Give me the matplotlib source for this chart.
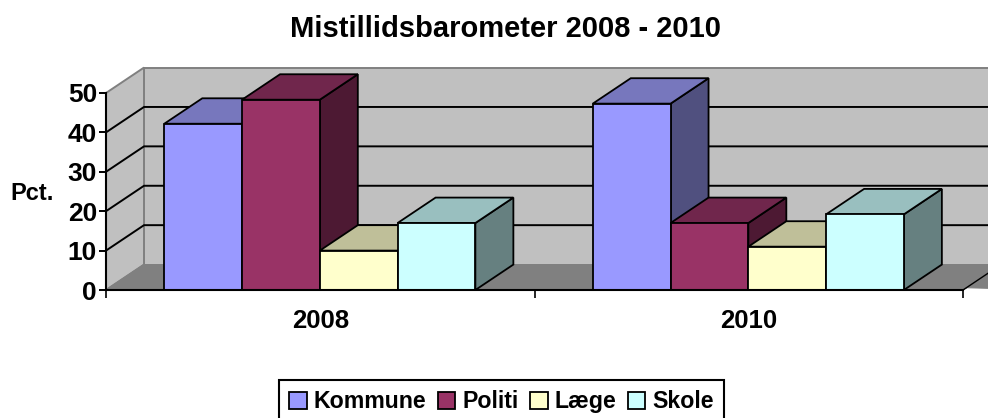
import matplotlib
matplotlib.use('Agg')
import matplotlib.pyplot as plt
from matplotlib.patches import Polygon, Patch

plt.rcParams['font.family'] = ['Liberation Sans', 'DejaVu Sans']
plt.rcParams['font.weight'] = 'bold'

years = ['2008', '2010']
series_names = ['Kommune', 'Politi', 'Læge', 'Skole']
kommune = [42.2, 47.3]
politi = [48.3, 17.0]
laege = [10.0, 11.0]
skole = [17.0, 19.2]
yticks = [0, 10, 20, 30, 40, 50]

front_colors = ['#9999ff', '#993366', '#ffffcc', '#ccffff']
top_colors = ['#7777bd', '#70264c', '#bfbf99', '#99bfbf']
side_colors = ['#50507f', '#4d1933', '#7f7f66', '#668080']

W, H = 988, 418
fig = plt.figure(figsize=(W / 100, H / 100), dpi=100)
ax = fig.add_axes([106 / W, (H - 290) / H, (963 - 106) / W, (290 - 93) / H])
ax.set_xlim(0, 2)
ax.set_ylim(0, 50)
ax.patch.set_visible(False)

# depth of the fake 3d box, in data units
dx = 38 / 428.5
dy = 25.5 / 3.95
bar_w = 0.1815
group_gap = 0.136


def poly(pts, color, edge='black', lw=1.3, z=2):
    ax.add_patch(Polygon(pts, closed=True, facecolor=color, edgecolor=edge,
                         linewidth=lw, joinstyle='miter', clip_on=False, zorder=z))


# walls and floor
right = 2.2
poly([(dx, dy), (right, dy), (right, 50 + dy), (dx, 50 + dy)], '#c0c0c0', '#808080', 1.4, 1)
poly([(0, 0), (dx, dy), (dx, 50 + dy), (0, 50)], '#c0c0c0', '#808080', 1.4, 1)
poly([(0, 0), (2, 0), (2 + dx, dy), (right, dy), (right, 0), (dx, dy)], '#808080', '#808080', 0.8, 1)
poly([(0, 0), (2, 0), (2 + dx, dy), (dx, dy)], '#808080', '#808080', 0.8, 1)
for t in yticks[1:-1]:
    ax.plot([0, dx, right], [t, t + dy, t + dy], color='black', lw=1.4,
            clip_on=False, zorder=1.5)
ax.plot([2, 2 + dx], [0, dy], color='black', lw=1.0, clip_on=False, zorder=1.5)

# bars, painted left to right so the next bar hides the side of the last one
data = [kommune, politi, laege, skole]
for g in range(len(years)):
    for s, vals in enumerate(data):
        x0 = g + group_gap + s * bar_w
        x1 = x0 + bar_w
        v = vals[g]
        poly([(x1, 0), (x1 + dx, dy), (x1 + dx, v + dy), (x1, v)], side_colors[s])
        poly([(x0, v), (x1, v), (x1 + dx, v + dy), (x0 + dx, v + dy)], top_colors[s])
        poly([(x0, 0), (x1, 0), (x1, v), (x0, v)], front_colors[s])

# axes
for name in ['top', 'right']:
    ax.spines[name].set_visible(False)
for name in ['left', 'bottom']:
    ax.spines[name].set_linewidth(1.5)
    ax.spines[name].set_zorder(5)
ax.set_yticks(yticks)
ax.tick_params(axis='y', which='major', labelsize=19, length=5, width=1.4, pad=1.5)
ax.set_xticks([0, 1, 2])
ax.set_xticklabels([])
ax.set_xticks([0.5, 1.5], minor=True)
ax.set_xticklabels(years, minor=True)
ax.tick_params(axis='x', which='major', length=6, width=1.2)
ax.tick_params(axis='x', which='minor', length=0, labelsize=18.5, pad=14)

fig.text(32 / W, (H - 193) / H, 'Pct.', ha='center', va='center', fontsize=17)
fig.text(505 / W, (H - 29) / H, 'Mistillidsbarometer 2008 - 2010', ha='center', va='center', fontsize=21)

handles = [Patch(facecolor=c, edgecolor='black', linewidth=1.3) for c in front_colors]
leg = fig.legend(handles, series_names, loc='upper left', bbox_to_anchor=(279 / W, (H - 380) / H),
                 ncol=4, frameon=True, fancybox=False, fontsize=16.7, edgecolor='black',
                 framealpha=1, borderpad=0.45, handlelength=0.75, handleheight=0.75,
                 handletextpad=0.3, columnspacing=0.5, borderaxespad=0)
leg.get_frame().set_linewidth(1.5)

fig.savefig('out.png', dpi=100)
